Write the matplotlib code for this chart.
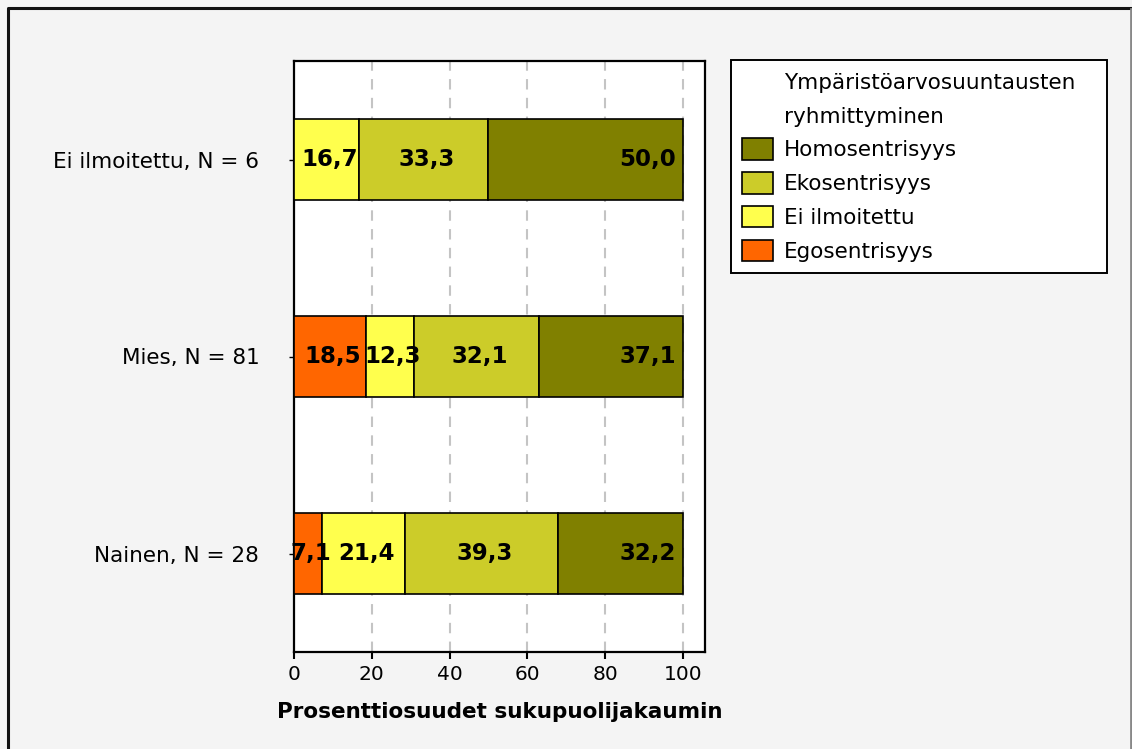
import matplotlib
matplotlib.use("Agg")
import matplotlib.pyplot as plt
from matplotlib.patches import Patch
from matplotlib.lines import Line2D
import numpy as np

plt.rcParams['font.family'] = ['DejaVu Sans']

# Respondent groups (bottom to top) and the value-orientation shares (%)
groups = ["Nainen, N = 28", "Mies, N = 81", "Ei ilmoitettu, N = 6"]
series = ["Egosentrisyys", "Ei ilmoitettu", "Ekosentrisyys", "Homosentrisyys"]
egosentrisyys = [7.1, 18.5, 0.0]
ei_ilmoitettu = [21.4, 12.3, 16.7]
ekosentrisyys = [39.3, 32.1, 33.3]
homosentrisyys = [32.2, 37.1, 50.0]
colors = ["#ff6600", "#ffff4d", "#cccc29", "#808000"]
x_ticks = [0, 20, 40, 60, 80, 100]

legend_title = ["Ympäristöarvosuuntausten", "ryhmittyminen"]
x_label = "Prosenttiosuudet sukupuolijakaumin"

values = [egosentrisyys, ei_ilmoitettu, ekosentrisyys, homosentrisyys]

W, H = 1132, 749
fig = plt.figure(figsize=(W / 100, H / 100), dpi=100)
fig.patch.set_facecolor("#f4f4f4")

# outer frame: dark top/left edges, lighter right edge
fig.lines.append(Line2D([8 / W, 8 / W, 1 - 1 / W], [0, 1 - 8 / H, 1 - 8 / H],
                        transform=fig.transFigure, color="#111111", linewidth=2.2))
fig.lines.append(Line2D([1 - 1.5 / W, 1 - 1.5 / W], [0, 1 - 9 / H],
                        transform=fig.transFigure, color="#888888", linewidth=2))

ax = fig.add_axes([294 / W, 1 - 652 / H, (705 - 294) / W, (652 - 61) / H])
ax.set_facecolor("white")

y = np.arange(len(groups))
left = np.zeros(len(groups))
bar_h = 0.41
for s, (name, vals, col) in enumerate(zip(series, values, colors)):
    vals = np.asarray(vals)
    ax.barh(y, vals, left=left, height=bar_h, color=col, edgecolor="black",
            linewidth=1.2, zorder=3, label=name)
    for i, v in enumerate(vals):
        if v <= 0:
            continue
        txt = f"{v:.1f}".replace(".", ",")
        if s == len(series) - 1:
            ax.text(left[i] + v - 1.8, y[i], txt, ha="right", va="center",
                    fontsize=16.5, fontweight="bold", zorder=4)
        else:
            ax.text(left[i] + v / 2 + 0.8, y[i], txt, ha="center", va="center",
                    fontsize=16.5, fontweight="bold", zorder=4)
    left = left + vals

ax.set_xlim(0, 105.7)
ax.set_ylim(-0.5, 2.5)
ax.set_yticks(y)
ax.set_yticklabels(groups, fontsize=15.5)
ax.set_xticks(x_ticks)
ax.set_xticklabels([str(t) for t in x_ticks], fontsize=14.5)
ax.tick_params(axis="y", length=3.5, width=1, pad=21.5)
ax.tick_params(axis="x", length=5, width=1.5, pad=4)
ax.set_xlabel(x_label, fontsize=15.5, fontweight="bold", labelpad=13)

for t in x_ticks[1:]:
    ax.axvline(t, color="#c4c4c4", linewidth=1.5, linestyle=(0, (5, 4)), zorder=1)

for sp in ax.spines.values():
    sp.set_linewidth(1.6)
    sp.set_color("black")

# legend: two title lines as blank entries, then series from top of stack down
blank = Patch(facecolor="none", edgecolor="none")
handles = [blank, blank] + [Patch(facecolor=c, edgecolor="black", linewidth=1.2)
                            for c in colors[::-1]]
labels = legend_title + series[::-1]
leg = fig.legend(handles, labels, loc="upper left",
                 bbox_to_anchor=(731 / W, 1 - 60 / H, (1107 - 731) / W, 0),
                 mode="expand", fontsize=15.5, frameon=True, fancybox=False,
                 edgecolor="black", handlelength=1.45, handleheight=1.15,
                 handletextpad=0.5, labelspacing=0.55, borderpad=0.5,
                 borderaxespad=0)
leg.get_frame().set_linewidth(1.4)
leg.get_frame().set_facecolor("white")
leg.get_frame().set_alpha(1)

fig.savefig("out.png", dpi=100, facecolor=fig.get_facecolor())
